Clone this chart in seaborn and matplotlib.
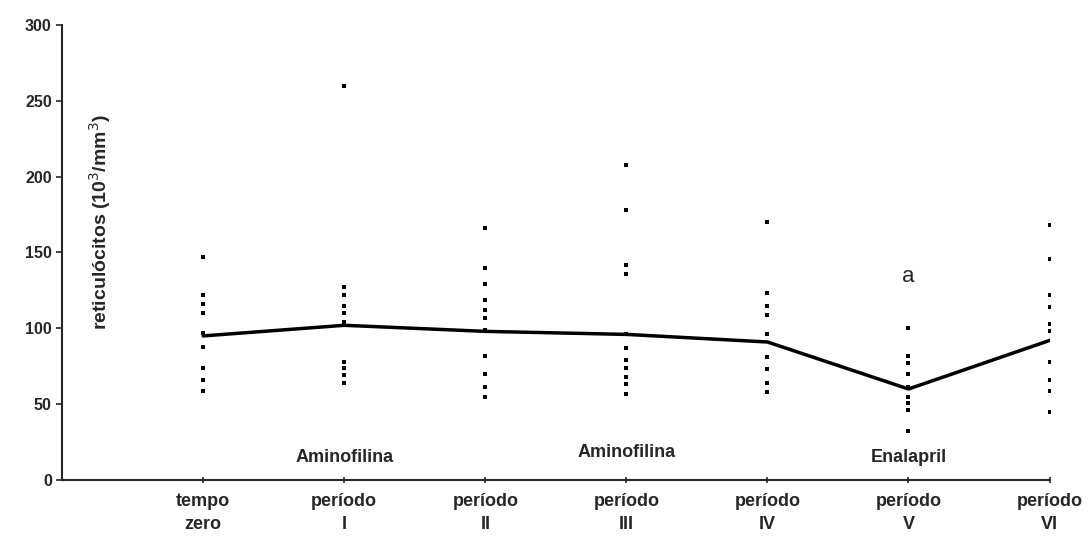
import pandas as pd
import numpy as np
import seaborn as sns
import matplotlib
matplotlib.use('Agg')
import matplotlib.pyplot as plt

sns.set_style('ticks')
plt.rcParams['font.family'] = ['Liberation Sans', 'DejaVu Sans']

# categories and tick labels
periods = ['tempo zero', 'período I', 'período II', 'período III', 'período IV', 'período V', 'período VI']
tick_labels = ['tempo\nzero', 'período\nI', 'período\nII', 'período\nIII', 'período\nIV', 'período\nV', 'período\nVI']

# individual values (10^3/mm^3)
tempo_zero = [147, 147, 122, 116, 110, 97, 88, 74, 66, 59]
periodo_1 = [260, 127, 122, 115, 110, 104, 78, 74, 69, 64]
periodo_2 = [166, 140, 129, 119, 112, 107, 99, 82, 70, 61, 55]
periodo_3 = [208, 178, 142, 136, 96, 87, 79, 74, 68, 63, 57]
periodo_4 = [170, 123, 115, 109, 96, 81, 73, 64, 58]
periodo_5 = [100, 82, 77, 70, 61, 55, 51, 46, 32]
periodo_6 = [168, 146, 122, 114, 103, 98, 78, 66, 59, 45]

# mean line
means = [95, 102, 98, 96, 91, 60, 92]

groups = [tempo_zero, periodo_1, periodo_2, periodo_3, periodo_4, periodo_5, periodo_6]
df = pd.DataFrame({
    'periodo': [p for p, g in zip(periods, groups) for _ in g],
    'valor': [v for g in groups for v in g],
})
df['periodo'] = pd.Categorical(df['periodo'], categories=periods, ordered=True)
df_mean = pd.DataFrame({'pos': np.arange(len(periods)), 'media': means})

fig = plt.figure(figsize=(10.91, 5.43), dpi=100)
ax = fig.add_axes([0.057, 0.116, 0.905, 0.838])

sns.stripplot(data=df, x='periodo', y='valor', ax=ax, jitter=False, color='black',
              marker='s', size=3.4, linewidth=0)
sns.lineplot(data=df_mean, x='pos', y='media', ax=ax, color='black', linewidth=2.5)

ax.set_xlim(-1, 6)
ax.set_ylim(0, 300)
ax.set_yticks([0, 50, 100, 150, 200, 250, 300])
ax.set_xticks(range(len(periods)))
ax.set_xticklabels(tick_labels, fontsize=13, fontweight='bold', linespacing=1.45)
ax.tick_params(axis='y', labelsize=11.5, length=4, width=1.2, direction='out')
ax.tick_params(axis='x', length=5, width=1.2, direction='inout', pad=7)
for lab in ax.get_yticklabels():
    lab.set_fontweight('bold')
ax.set_xlabel('')
ax.set_ylabel('')
sns.despine(ax=ax)
ax.spines['left'].set_linewidth(1.5)
ax.spines['bottom'].set_linewidth(1.5)

ax.text(-0.73, 170, 'reticulócitos (10$^3$/mm$^3$)',
        rotation=90, fontsize=14, fontweight='bold', ha='center', va='center')
ax.text(1, 15, 'Aminofilina', ha='center', va='center', fontsize=13, fontweight='bold')
ax.text(3, 18, 'Aminofilina', ha='center', va='center', fontsize=13, fontweight='bold')
ax.text(5, 15, 'Enalapril', ha='center', va='center', fontsize=13, fontweight='bold')
ax.text(5, 134, 'a', ha='center', va='center', fontsize=16)

fig.savefig('out.png', dpi=100)
